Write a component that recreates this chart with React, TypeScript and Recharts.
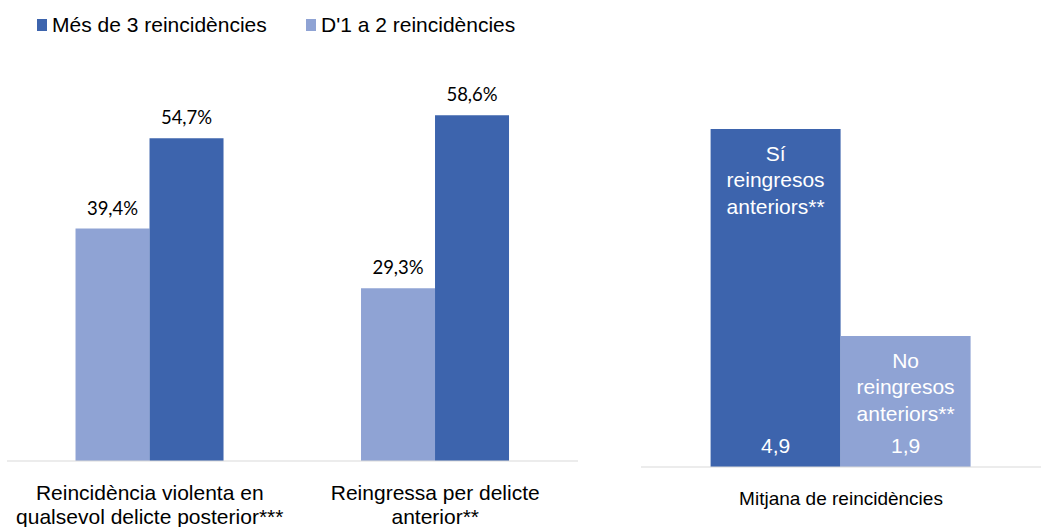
import React from "react";
import { BarChart, Bar, XAxis, YAxis, LabelList } from "recharts";

// left panel: two indicators, two groups of reoffenders
const categories = [
  "Reincidència violenta en qualsevol delicte posterior***",
  "Reingressa per delicte anterior**",
];
const categoryLines = [
  ["Reincidència violenta en", "qualsevol delicte posterior***"],
  ["Reingressa per delicte", "anterior**"],
];
const seriesNames = ["Més de 3 reincidències", "D'1 a 2 reincidències"];
const moreThanThree = [54.7, 58.6];
const oneToTwo = [39.4, 29.3];

// right panel: average number of reoffences
const meanCategory = "Mitjana de reincidències";
const meanNames = ["Sí reingresos anteriors**", "No reingresos anteriors**"];
const meanLines = [
  ["Sí", "reingresos", "anteriors**"],
  ["No", "reingresos", "anteriors**"],
];
const meanValues = [4.9, 1.9];

const DARK = "#3D64AD";
const LIGHT = "#8FA3D4";
const AXIS = "#D9D9D9";
const SANS = "'Liberation Sans', Arial, sans-serif";

const leftData = categories.map((c, i) => ({
  name: c,
  more: moreThanThree[i],
  less: oneToTwo[i],
}));

const rightData = [{ name: meanCategory, yes: meanValues[0], no: meanValues[1] }];

const fmt = (v: number) => v.toFixed(1).replace(".", ",");

const CategoryTick = (props: any) => {
  const { x, y, payload } = props;
  const idx = categories.indexOf(payload.value);
  const lines = categoryLines[idx] || [payload.value];
  return (
    <text x={x} y={y} textAnchor="middle" fill="#000" fontFamily={SANS} fontSize={21}>
      {lines.map((l, i) => (
        <tspan key={i} x={x} dy={i === 0 ? 31 : 24}>
          {l}
        </tspan>
      ))}
    </text>
  );
};

const MeanTick = (props: any) => {
  const { x, y, payload } = props;
  return (
    <text x={x} y={y + 30} textAnchor="middle" fill="#000" fontFamily={SANS} fontSize={19}>
      {payload.value}
    </text>
  );
};

const insideLabel = (lines: string[]) => (props: any) => {
  const { x, y, width, height, value } = props;
  const cx = x + width / 2;
  return (
    <g fontFamily={SANS} fontSize={21} fill="#fff">
      <text x={cx} y={y + 32} textAnchor="middle">
        {lines.map((l, i) => (
          <tspan key={i} x={cx} dy={i === 0 ? 0 : 26.5}>
            {l}
          </tspan>
        ))}
      </text>
      <text x={cx} y={y + height - 14} textAnchor="middle">
        {fmt(value)}
      </text>
    </g>
  );
};

export default function App() {
  return (
    <div style={{ position: "absolute", left: 0, top: 0, width: 1041, height: 527, background: "#fff" }}>
      {/* legend */}
      <div
        style={{
          position: "absolute",
          left: 37,
          top: 13,
          display: "flex",
          alignItems: "center",
          fontFamily: SANS,
          fontSize: 21,
          color: "#000",
          whiteSpace: "nowrap",
        }}
      >
        <span style={{ display: "inline-block", width: 10, height: 12, background: DARK, marginRight: 5 }} />
        <span style={{ width: 254 }}>{seriesNames[0]}</span>
        <span style={{ display: "inline-block", width: 10, height: 12, background: LIGHT, marginRight: 5 }} />
        <span>{seriesNames[1]}</span>
      </div>

      <div style={{ position: "absolute", left: 0, top: 0 }}>
        <BarChart
          width={578}
          height={527}
          data={leftData}
          margin={{ top: 48, right: 0, left: 7, bottom: 0 }}
          barCategoryGap="24%"
          barGap={0}
        >
          <XAxis
            dataKey="name"
            height={66}
            tickLine={false}
            axisLine={{ stroke: AXIS }}
            interval={0}
            tick={<CategoryTick />}
          />
          <YAxis hide domain={[0, 70]} />
          <Bar dataKey="less" name={seriesNames[1]} fill={LIGHT} isAnimationActive={false}>
            <LabelList
              dataKey="less"
              position="top"
              offset={14}
              formatter={(v: any) => fmt(v) + "%"}
              style={{ fontFamily: "Lato, sans-serif", fontSize: 18.5, fill: "#000" }}
            />
          </Bar>
          <Bar dataKey="more" name={seriesNames[0]} fill={DARK} isAnimationActive={false}>
            <LabelList
              dataKey="more"
              position="top"
              offset={14}
              formatter={(v: any) => fmt(v) + "%"}
              style={{ fontFamily: "Lato, sans-serif", fontSize: 18.5, fill: "#000" }}
            />
          </Bar>
        </BarChart>
      </div>

      <div style={{ position: "absolute", left: 641, top: 0 }}>
        <BarChart
          width={400}
          height={527}
          data={rightData}
          margin={{ top: 53, right: 0, left: 0, bottom: 0 }}
          barCategoryGap="17.4%"
          barGap={0}
        >
          <XAxis
            dataKey="name"
            height={60}
            tickLine={false}
            axisLine={{ stroke: AXIS }}
            tick={<MeanTick />}
          />
          <YAxis hide domain={[0, 6]} />
          <Bar dataKey="yes" name={meanNames[0]} fill={DARK} isAnimationActive={false}>
            <LabelList dataKey="yes" content={insideLabel(meanLines[0])} />
          </Bar>
          <Bar dataKey="no" name={meanNames[1]} fill={LIGHT} isAnimationActive={false}>
            <LabelList dataKey="no" content={insideLabel(meanLines[1])} />
          </Bar>
        </BarChart>
      </div>
    </div>
  );
}
